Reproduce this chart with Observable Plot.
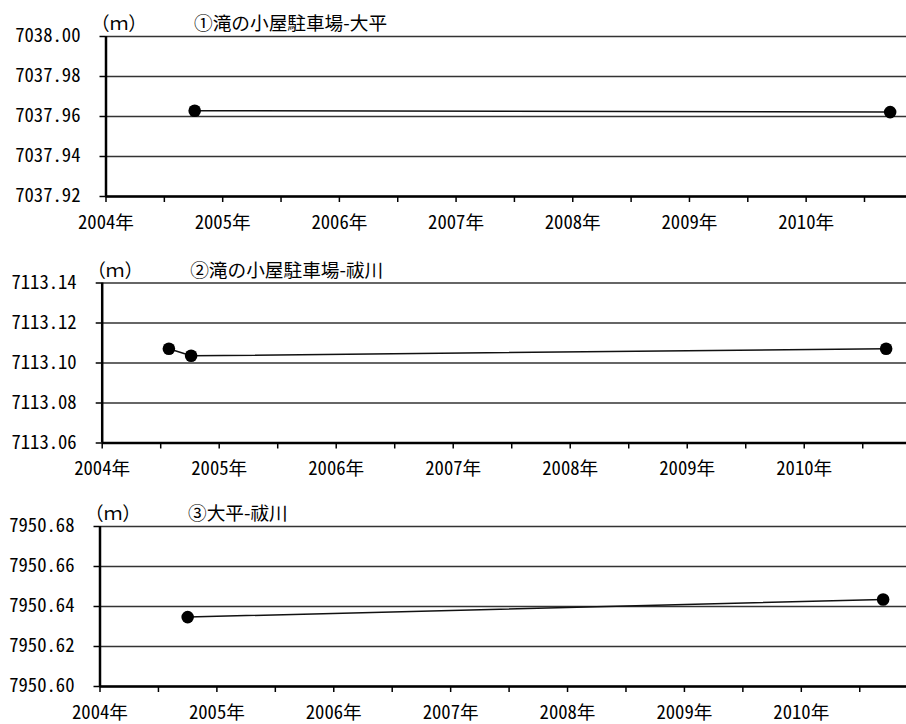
<!DOCTYPE html>
<html>
<head>
<meta charset="utf-8">
<script src="https://cdn.jsdelivr.net/npm/d3@7"></script>
<script src="https://cdn.jsdelivr.net/npm/@observablehq/plot@0.6"></script>
<style>
  html, body { margin: 0; padding: 0; background: #fff; overflow: hidden; }
  #chart svg { display: block; }
  #chart g[aria-label$="tick label"] text { font-feature-settings: "hwid" 1; }
</style>
</head>
<body>
<div id="chart"></div>
<script>
// ---- data (x in decimal years, y in metres) ----
const titles = ["①滝の小屋駐車場-大平", "②滝の小屋駐車場-祓川", "③大平-祓川"];
const unitLabel = "（ｍ）";

const years1 = [2004.76, 2010.72];
const values1 = [7037.9629, 7037.9622];
const yTicks1 = [7037.92, 7037.94, 7037.96, 7037.98, 7038.00];

const years2 = [2004.57, 2004.76, 2010.70];
const values2 = [7113.1071, 7113.1036, 7113.1071];
const yTicks2 = [7113.06, 7113.08, 7113.10, 7113.12, 7113.14];

const years3 = [2004.75, 2010.70];
const values3 = [7950.6347, 7950.6435];
const yTicks3 = [7950.60, 7950.62, 7950.64, 7950.66, 7950.68];

const yearTicks = [2004, 2004.5, 2005, 2005.5, 2006, 2006.5, 2007, 2007.5, 2008, 2008.5, 2009, 2009.5, 2010, 2010.5];

const FONT = "'Noto Sans CJK JP', 'Noto Sans', sans-serif";
const FS = 18.67;

function panel({title, xs, ys, yTicks, xEnd, height, marginLeft, marginTop, marginBottom}) {
  const data = xs.map((x, i) => ({x, y: ys[i]}));
  const yMin = yTicks[0], yMax = yTicks[yTicks.length - 1];
  return Plot.plot({
    width: 906,
    height,
    marginLeft,
    marginRight: 0,
    marginTop,
    marginBottom,
    style: {fontFamily: FONT, fontSize: FS + "px", color: "#000", background: "#fff", overflow: "visible"},
    x: {domain: [2004, xEnd], axis: null},
    y: {domain: [yMin, yMax], axis: null},
    marks: [
      Plot.gridY(yTicks, {stroke: "#333", strokeOpacity: 1, strokeWidth: 1.3}),
      Plot.axisX(yearTicks, {
        label: null,
        tickSize: 6, tickPadding: 13, strokeWidth: 1.5,
        tickFormat: d => Number.isInteger(d) ? `${d}年` : "",
        fontSize: FS
      }),
      Plot.axisY(yTicks, {
        label: null,
        tickSize: 6, tickPadding: 19.5, strokeWidth: 1.5,
        tickFormat: d => d.toFixed(2),
        fontSize: FS
      }),
      Plot.ruleY([yMin], {stroke: "#000", strokeWidth: 2.5}),
      Plot.ruleX([2004], {stroke: "#000", strokeWidth: 2.5}),
      Plot.line(data, {x: "x", y: "y", stroke: "#111", strokeWidth: 1.5}),
      Plot.dot(data, {x: "x", y: "y", r: 6.3, fill: "#000", stroke: null}),
      Plot.text([unitLabel], {frameAnchor: "top-left", dx: -15, dy: -12, textAnchor: "start", lineAnchor: "middle", fontSize: FS}),
      Plot.text([title], {frameAnchor: "top-left", dx: 88, dy: -12, textAnchor: "start", lineAnchor: "middle", fontSize: FS})
    ]
  });
}

const chart = document.getElementById("chart");
chart.append(panel({title: titles[0], xs: years1, ys: values1, yTicks: yTicks1, xEnd: 2010.86, height: 246, marginLeft: 105.5, marginTop: 36, marginBottom: 50}));
chart.append(panel({title: titles[1], xs: years2, ys: values2, yTicks: yTicks2, xEnd: 2010.874, height: 244, marginLeft: 101.7, marginTop: 36.5, marginBottom: 47.5}));
chart.append(panel({title: titles[2], xs: years3, ys: values3, yTicks: yTicks3, xEnd: 2010.9, height: 234, marginLeft: 99.5, marginTop: 36, marginBottom: 38}));
</script>
</body>
</html>
